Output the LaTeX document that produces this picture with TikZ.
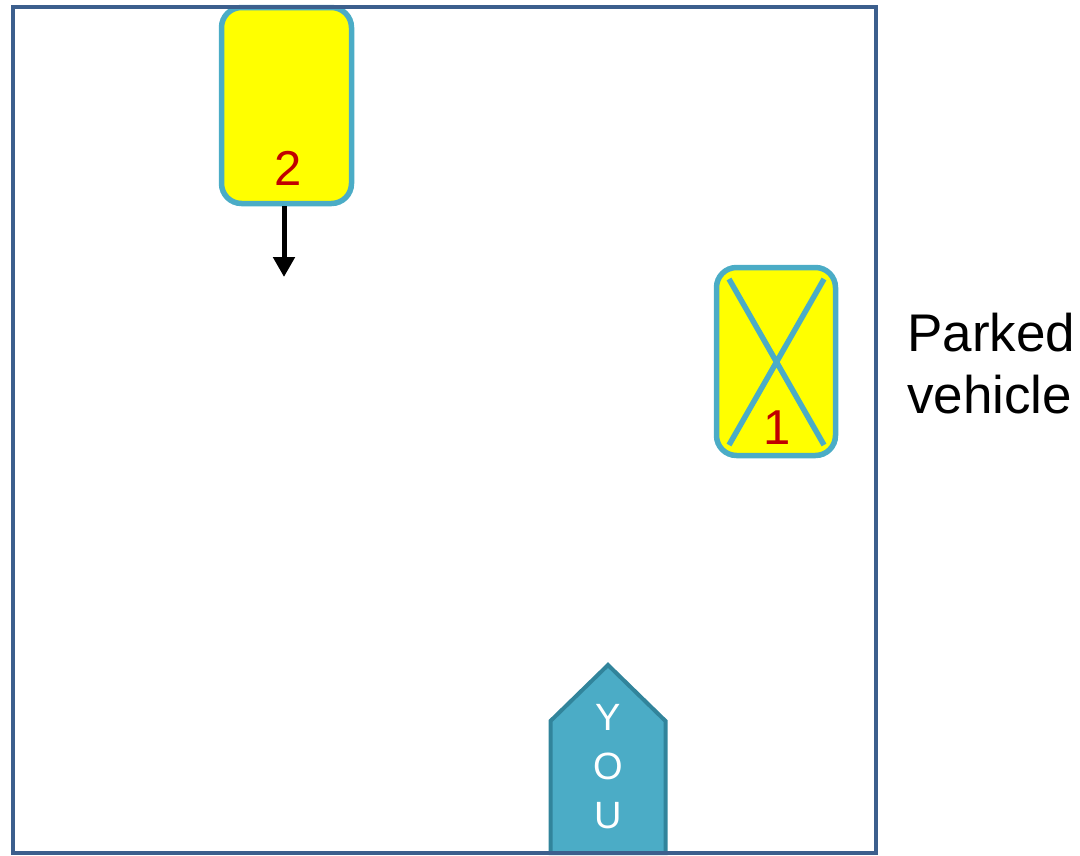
\documentclass[tikz,border=0pt]{standalone}
\usepackage{fontspec}
\setmainfont{Liberation Sans}
\usetikzlibrary{arrows.meta}

\definecolor{framecol}{HTML}{3C5F8D}
\definecolor{carline}{HTML}{4BACC6}
\definecolor{carfill}{HTML}{FFFF00}
\definecolor{youline}{HTML}{31849B}
\definecolor{numred}{HTML}{C00000}

\begin{document}
\begin{tikzpicture}[x=1pt,y=-1pt]
    % `car' is used for the two yellow vehicles.
    % `carnum' is used for the red numbers in them.
    % `you' is used for the own vehicle at the bottom.
    \tikzstyle{car} = [draw=carline,fill=carfill,line width=5.5pt,rounded corners=20pt,
                       minimum width=130pt,minimum height=196pt,inner sep=0pt]
    \tikzstyle{carnum} = [text=numred,font=\fontsize{49}{49}\selectfont,inner sep=0pt]
    \tikzstyle{you} = [draw=youline,fill=carline,line width=4pt,line join=miter]
    %
    \useasboundingbox (0,0) rectangle (1080,855);
    % Vehicles.
    \node[car] (car2) at (286.5,105.5) {};
    \node[carnum] (num2) at (288,168) {2};
    \node[car,minimum width=119pt,minimum height=188pt] (car1) at (776,361.5) {};
    \draw[carline,line width=5.5pt] (729,279) -- (824,445)   (824,279) -- (729,445);
    \node[carnum] (num1) at (777,428) {1};
    % Own vehicle.
    \draw[you] (550.5,853) -- (550.5,721) -- (608,665) -- (665.5,721) -- (665.5,853) -- cycle;
    \node[text=white,align=center,font=\fontsize{38}{49}\selectfont] (you) at (608,767) {Y\\O\\U};
    % Movement of vehicle 2.
    \coordinate (tip) at (284,277);
    \draw[line width=5pt,-{Triangle[length=20pt,width=21pt]}] (car2.south -| tip) -- (tip);
    % Road frame and label.
    \draw[framecol,line width=4pt] (13,7) rectangle (876,853);
    \node[anchor=west,align=left,inner sep=0pt,font=\fontsize{53}{62}\selectfont] (parked) at (907,364) {Parked\\vehicle};
\end{tikzpicture}
\end{document}
